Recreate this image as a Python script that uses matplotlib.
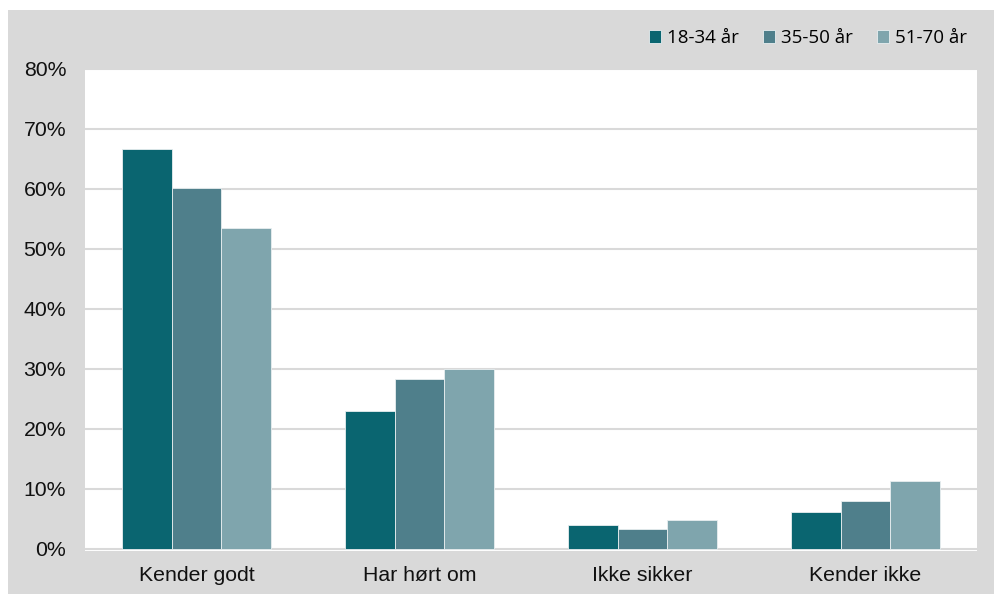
import matplotlib
matplotlib.use("Agg")
import matplotlib.pyplot as plt
from matplotlib.patches import Rectangle
import numpy as np

categories = ["Kender godt", "Har hørt om", "Ikke sikker", "Kender ikke"]
series_names = ["18-34 år", "35-50 år", "51-70 år"]
v_18_34 = [66.7, 22.9, 3.9, 6.1]
v_35_50 = [60.2, 28.3, 3.2, 7.9]
v_51_70 = [53.5, 29.9, 4.8, 11.3]
colors = ["#0a6570", "#4f7f8b", "#7fa5ad"]
yticks = [0, 10, 20, 30, 40, 50, 60, 70, 80]

W, H = 995, 594
fig = plt.figure(figsize=(W / 100, H / 100), dpi=100, facecolor="white")
fig.patches.append(Rectangle((8 / W, 0), 1, (H - 10) / H, transform=fig.transFigure,
                             facecolor="#d9d9d9", edgecolor="none", zorder=-5))

ax = fig.add_axes([85 / W, (H - 551) / H, 892 / W, (551 - 69) / H])
ax.set_zorder(1)
ax.set_facecolor("white")

x = np.arange(len(categories))
bw = 0.222
for i, (vals, c, name) in enumerate(zip([v_18_34, v_35_50, v_51_70], colors, series_names)):
    ax.bar(x + (i - 1) * bw, vals, width=bw, color=c, edgecolor="#e8eef0",
           linewidth=0.6, label=name, zorder=3)

ax.set_xlim(-0.5, len(categories) - 0.5)
ax.set_ylim(-0.4, 80)
ax.set_yticks(yticks)
ax.set_yticklabels([f"{t}%" for t in yticks], fontsize=15.3, family="Liberation Sans", color="#111111")
ax.set_xticks(x)
ax.set_xticklabels(categories, fontsize=15.3, family="Liberation Sans", color="#111111")
ax.tick_params(axis="both", length=0)
ax.tick_params(axis="y", pad=13.5)
ax.tick_params(axis="x", pad=11)
ax.grid(axis="y", color="#d9d9d9", linewidth=1.5, zorder=0)
ax.set_axisbelow(True)
for s in ax.spines.values():
    s.set_visible(False)

leg = fig.legend(loc="center right", bbox_to_anchor=(984 / W, 1 - 38 / H), ncol=3,
                 frameon=False, prop={"family": "Open Sans", "size": 13.5},
                 handlelength=0.65, handleheight=0.65, handletextpad=0.3, columnspacing=1.3)

fig.savefig("out.png", dpi=100, facecolor="white")
